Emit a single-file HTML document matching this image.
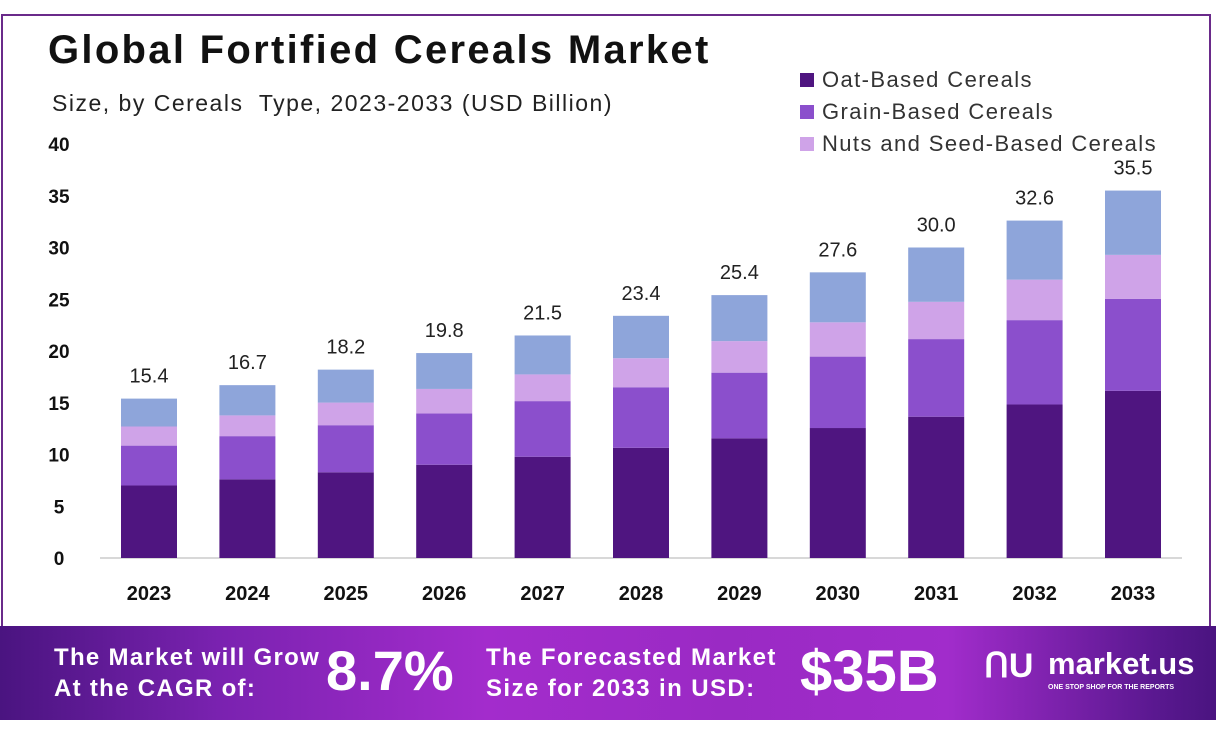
<!DOCTYPE html>
<html><head><style>
body{margin:0;width:1216px;height:737px;background:#fff;position:relative;overflow:hidden;font-family:"Liberation Sans",sans-serif}
.frame{position:absolute;left:1px;top:14px;width:1210px;height:612px;border:2px solid #6a2a8a;border-bottom:none;box-sizing:border-box}
.banner{position:absolute;left:0;top:626px;width:1216px;height:94px;background:linear-gradient(90deg,#4a1480 0%,#7a22b0 18%,#a32ccc 40%,#9a2ac4 60%,#a12ccb 78%,#5a1890 95%,#4a1480 100%)}
.bt{position:absolute;color:#fff;font-weight:bold;white-space:nowrap}
</style></head><body>
<div class="frame"></div>
<div style="position:absolute;left:48px;top:28px;font-size:40px;font-weight:bold;color:#111;letter-spacing:2.3px;white-space:nowrap">Global Fortified Cereals Market</div>
<div style="position:absolute;left:52px;top:90px;font-size:23px;color:#222;letter-spacing:1.5px;white-space:nowrap">Size, by Cereals&nbsp; Type, 2023-2033 (USD Billion)</div>
<div style="position:absolute;left:800px;top:64px;font-size:22px;color:#333;line-height:32px;letter-spacing:1.4px;white-space:nowrap">
<div><span style="display:inline-block;width:14px;height:14px;background:#4f1580;margin-right:8px"></span>Oat-Based Cereals</div>
<div><span style="display:inline-block;width:14px;height:14px;background:#8b4fcc;margin-right:8px"></span>Grain-Based Cereals</div>
<div><span style="display:inline-block;width:14px;height:14px;background:#cfa3e8;margin-right:8px"></span>Nuts and Seed-Based Cereals</div>
</div>
<svg width="1216" height="737" style="position:absolute;left:0;top:0" font-family="Liberation Sans,sans-serif">
<g font-size="19" font-weight="bold" fill="#111" text-anchor="middle" id="yt"></g>
<line x1="100" y1="558" x2="1182" y2="558" stroke="#ccc" stroke-width="1.5"/>
<g id="bars"></g>
</svg>
<div class="banner">
<div class="bt" style="left:54px;top:16px;font-size:24px;line-height:31px;letter-spacing:1.3px">The Market will Grow<br>At the CAGR of:</div>
<div class="bt" style="left:326px;top:12px;font-size:56px">8.7%</div>
<div class="bt" style="left:486px;top:16px;font-size:24px;line-height:31px;letter-spacing:1.4px">The Forecasted Market<br>Size for 2033 in USD:</div>
<div class="bt" style="left:800px;top:12px;font-size:58px">$35B</div>
<div class="bt" style="left:984px;top:20px;font-size:34px">ՈU</div>
<div class="bt" style="left:1048px;top:20px;font-size:31px">market.us</div>
<div class="bt" style="left:1048px;top:58px;font-size:7px">ONE STOP SHOP FOR THE REPORTS</div>
</div>
<script>
var ns="http://www.w3.org/2000/svg",g=document.getElementById("bars"),yt=document.getElementById("yt");
function el(t,a,p,txt){var e=document.createElementNS(ns,t);for(var k in a)e.setAttribute(k,a[k]);if(txt)e.textContent=txt;p.appendChild(e);return e;}
var y0=558,s=10.35;
for(var v=0;v<=40;v+=5)el("text",{x:59,y:y0-v*s+7},yt,""+v);
var vals=[15.4,16.7,18.2,19.8,21.5,23.4,25.4,27.6,30.0,32.6,35.5];
var fr=[.455,.25,.12,.175],col=["#4f1580","#8b4fcc","#cfa3e8","#8ea5da"];
vals.forEach(function(t,i){var cx=149+i*98.4,acc=0;
fr.forEach(function(f,j){var h=t*f*s;el("rect",{x:cx-28,y:y0-acc-h,width:56,height:h,fill:col[j]},g);acc+=h;});
el("text",{x:cx,y:y0-t*s-16,"font-size":20,fill:"#222","text-anchor":"middle"},g,t.toFixed(1));
el("text",{x:cx,y:600,"font-size":20,"font-weight":"bold",fill:"#111","text-anchor":"middle"},g,""+(2023+i));
});
</script>
</body></html>
